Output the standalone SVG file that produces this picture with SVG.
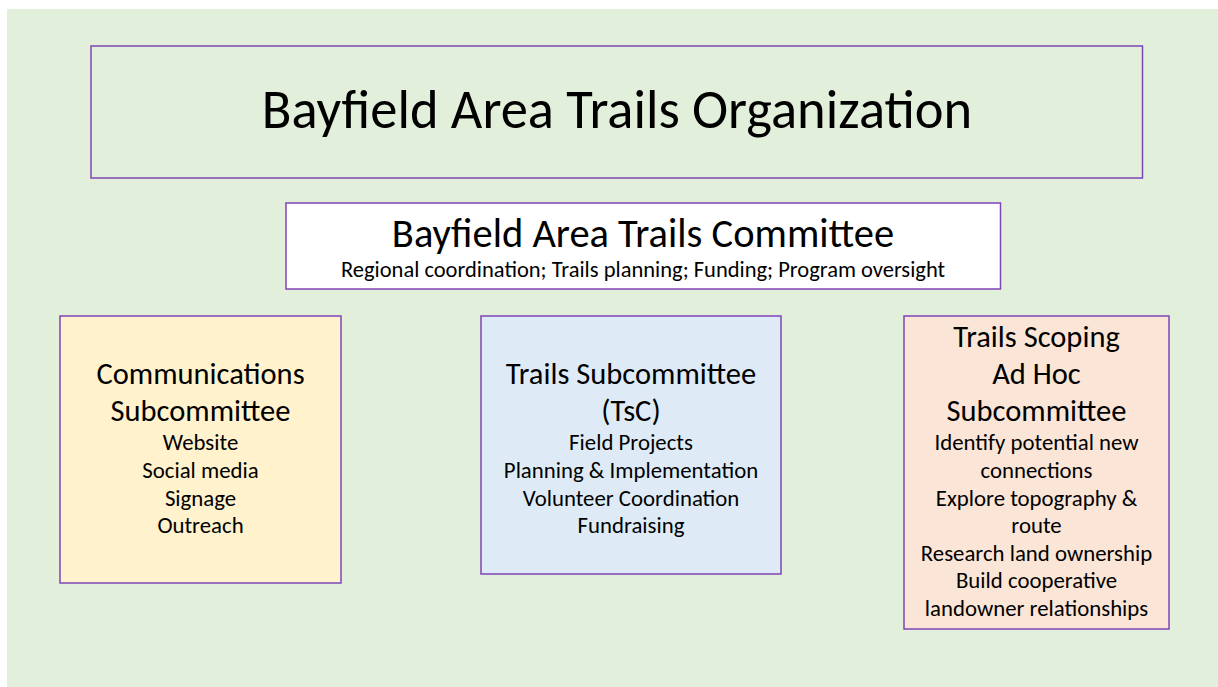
<svg xmlns="http://www.w3.org/2000/svg" width="1218" height="687" viewBox="0 0 1218 687">
<style>
text{font-family:Carlito,Calibri,Lato,"Liberation Sans",sans-serif;fill:#000;text-anchor:middle}
.box{stroke:#7F44B8;stroke-width:1.5}
.h{font-size:30.5px}
.b{font-size:22.8px}
</style>
<rect x="7" y="9" width="1211" height="678" fill="#E2EFDA"/>
<g id="organization">
<rect class="box" x="91" y="46" width="1051.5" height="132" fill="#E2EFDA"/>
<text x="617" y="128" style="font-size:54.5px;font-weight:300">Bayfield Area Trails Organization</text>
</g>
<g id="committee">
<rect class="box" x="286" y="203" width="714.5" height="86" fill="#FFFFFF"/>
<text x="643" y="247" style="font-size:40.5px">Bayfield Area Trails Committee</text>
<text x="643" y="277" style="font-size:22.5px">Regional coordination; Trails planning; Funding; Program oversight</text>
</g>
<g id="communications">
<rect class="box" x="60" y="316" width="281" height="267" fill="#FFF2CC"/>
<text class="h" x="200.5" y="384">Communications</text>
<text class="h" x="200.5" y="421">Subcommittee</text>
<text class="b" x="200.5" y="450">Website</text>
<text class="b" x="200.5" y="478">Social media</text>
<text class="b" x="200.5" y="506">Signage</text>
<text class="b" x="200.5" y="533">Outreach</text>
</g>
<g id="trails-subcommittee">
<rect class="box" x="481" y="316" width="300" height="258" fill="#DEEBF7"/>
<text class="h" x="631" y="384">Trails Subcommittee</text>
<text class="h" x="631" y="421">(TsC)</text>
<text class="b" x="631" y="450">Field Projects</text>
<text class="b" x="631" y="478">Planning &amp; Implementation</text>
<text class="b" x="631" y="506">Volunteer Coordination</text>
<text class="b" x="631" y="533">Fundraising</text>
</g>
<g id="scoping">
<rect class="box" x="904" y="316" width="265" height="313" fill="#FBE5D6"/>
<text class="h" x="1036.5" y="347">Trails Scoping</text>
<text class="h" x="1036.5" y="384">Ad Hoc</text>
<text class="h" x="1036.5" y="421">Subcommittee</text>
<text class="b" x="1036.5" y="450">Identify potential new</text>
<text class="b" x="1036.5" y="478">connections</text>
<text class="b" x="1036.5" y="506">Explore topography &amp;</text>
<text class="b" x="1036.5" y="533">route</text>
<text class="b" x="1036.5" y="561">Research land ownership</text>
<text class="b" x="1036.5" y="588">Build cooperative</text>
<text class="b" x="1036.5" y="616">landowner relationships</text>
</g>
<g id="connectors"></g>
</svg>
